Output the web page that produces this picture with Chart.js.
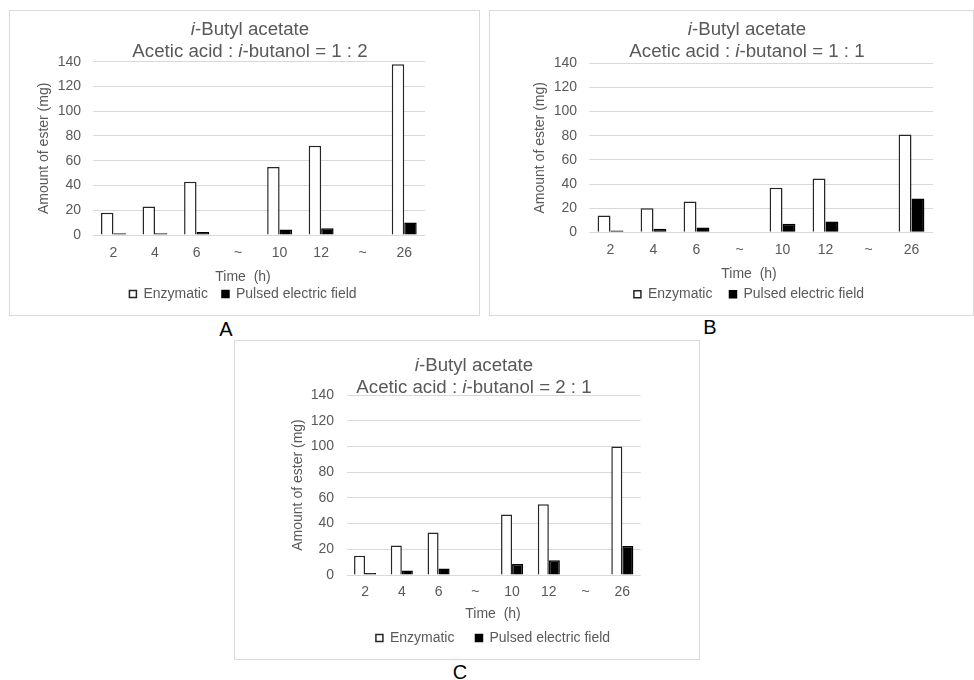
<!doctype html>
<html lang="en">
<head>
<meta charset="UTF-8" />
<title>i-Butyl acetate</title>
<style>
body { margin:0; background:#fff; font-family:"Liberation Sans", Arial, sans-serif; }
#page { position:relative; width:974px; height:680px; overflow:hidden; }
.box { position:absolute; border:1px solid #d9d9d9; box-sizing:border-box; }
.box canvas { position:absolute; left:0; top:0; }
.title { position:absolute; width:400px; text-align:center; color:#595959; font-size:18.7px; line-height:21.7px; white-space:nowrap; }
.letter { position:absolute; width:40px; text-align:center; font-size:20px; line-height:20px; color:#000; }
</style>
</head>
<body>
<div id="page">
  <div class="box" style="left:9px;top:10px;width:471px;height:306px;"><canvas id="chartA" width="469" height="304"></canvas></div>
  <div class="box" style="left:489px;top:10px;width:485px;height:306px;"><canvas id="chartB" width="483" height="304"></canvas></div>
  <div class="box" style="left:234px;top:340px;width:466px;height:320px;"><canvas id="chartC" width="464" height="318"></canvas></div>

  <div class="title" style="left:50px;top:18px;"><i>i</i>-Butyl acetate<br>Acetic acid : <i>i</i>-butanol = 1 : 2</div>
  <div class="title" style="left:547px;top:18px;"><i>i</i>-Butyl acetate<br>Acetic acid : <i>i</i>-butanol = 1 : 1</div>
  <div class="title" style="left:274px;top:354px;"><i>i</i>-Butyl acetate<br>Acetic acid : <i>i</i>-butanol = 2 : 1</div>

  <div class="letter" style="left:206px;top:319px;">A</div>
  <div class="letter" style="left:690px;top:317px;">B</div>
  <div class="letter" style="left:440px;top:662px;">C</div>
</div>

<script src="https://cdn.jsdelivr.net/npm/chart.js"></script>
<script>
// time points (h), "~" marks a break in the axis
const timeLabels = ['2', '4', '6', '~', '10', '12', '~', '26']

// A: acetic acid : i-butanol = 1 : 2
const enzA = [18, 23, 43, null, 55, 72, null, 138]
const pefA = [1.5, 1.5, 2.5, null, 4.5, 5.5, null, 10]
// B: 1 : 1
const enzB = [14, 20, 25.5, null, 37, 44.5, null, 81]
const pefB = [1.5, 3, 4, null, 7, 9, null, 28]
// C: 2 : 1
const enzC = [15, 23, 33, null, 47, 55, null, 100]
const pefC = [1.5, 3.5, 5, null, 8.5, 11.5, null, 22.5]

const yTicks = {min: 0, max: 140, step: 20}

Chart.defaults.font.family = "'Liberation Sans', Arial, sans-serif"
Chart.defaults.font.size = 14
Chart.defaults.color = '#595959'

function GEBI(e){return document.getElementById(e)}

// the legend (and the "Time (h)" line above it) is centred on the whole panel, not on the plot
const legendCenter = {
  id: 'legendCenter',
  afterLayout: (chart, args, opts) => {
    const l = chart.legend
    if (!l || opts.x == null) return
    const w = l.right - l.left
    l.left = opts.x - w / 2
    l.right = l.left + w
  }
}

function makeChart(id, enz, pef, g){
  return new Chart(GEBI(id), {
    type: 'bar',
    data: {
      labels: timeLabels,
      datasets: [
        {label: 'Enzymatic', data: enz, backgroundColor: '#ffffff', borderColor: '#262626', borderWidth: 1.5,
         categoryPercentage: 0.6, barPercentage: 1},
        {label: 'Pulsed electric field', data: pef, backgroundColor: '#000000', borderColor: '#000000', borderWidth: 1.5,
         categoryPercentage: 0.6, barPercentage: 1}
      ]
    },
    options: {
      responsive: false,
      animation: false,
      devicePixelRatio: 1,
      layout: {padding: {left: g.padL, right: g.padR, top: g.padT, bottom: g.padB}},
      plugins: {
        title: {display: false},
        tooltip: {enabled: false},
        legendCenter: {x: g.legX},
        legend: {
          position: 'bottom',
          labels: {boxWidth: 7, boxHeight: 7, padding: g.gap, color: '#595959'},
          title: {display: true, text: 'Time  (h)', color: '#595959', padding: {top: g.tT, bottom: g.tB}}
        }
      },
      scales: {
        x: {
          grid: {display: false, drawTicks: false},
          border: {display: false},
          ticks: {padding: g.xPad, maxRotation: 0, autoSkip: false},
          afterFit: s => { s.height = g.xH }
        },
        y: {
          min: yTicks.min, max: yTicks.max,
          ticks: {stepSize: yTicks.step, padding: g.yPad},
          grid: {color: '#d9d9d9', drawTicks: false},
          border: {display: false},
          title: {display: true, text: 'Amount of ester (mg)', color: '#595959', padding: {top: 4, bottom: 0}},
          afterFit: s => { s.width = g.yW }
        }
      }
    },
    plugins: [legendCenter]
  })
}

makeChart('chartA', enzA, pefA, {padL: 21.6, padR: 54, padT: 50.7, padB: 4, yW: 61.1, yPad: 11.7, xPad: 9.3, xH: 26, gap: 14, tT: 8.7, tB: -13.5, legX: 233})
makeChart('chartB', enzB, pefB, {padL: 37.6, padR: 40, padT: 52.3, padB: 3.7, yW: 61.4, yPad: 12, xPad: 9, xH: 26, gap: 17, tT: 8.4, tB: -13.2, legX: 259})
makeChart('chartC', enzC, pefC, {padL: 50.6, padR: 58.3, padT: 54, padB: 4, yW: 61.1, yPad: 12.7, xPad: 8.3, xH: 25, gap: 21, tT: 7, tB: -13.8, legX: 258})
</script>
</body>
</html>
